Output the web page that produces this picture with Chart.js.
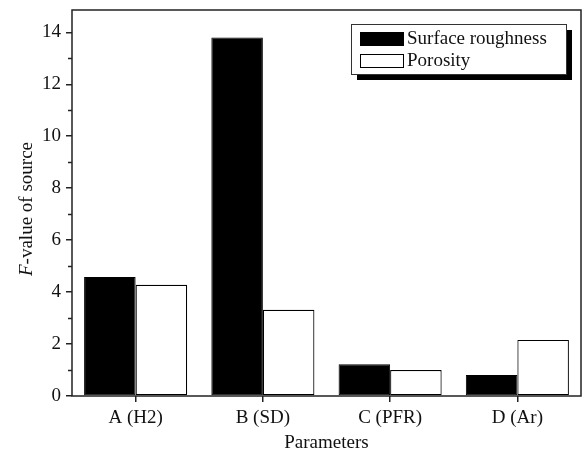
<!DOCTYPE html>
<html>
<head>
<meta charset="utf-8">
<script src="https://cdn.jsdelivr.net/npm/chart.js@4.4.1/dist/chart.umd.min.js"></script>
<style>
  html, body { margin: 0; padding: 0; background: #fff; }
  #wrap { width: 583px; height: 454px; }
</style>
</head>
<body>
<div id="wrap"><canvas id="c" width="583" height="454"></canvas></div>
<script>
// data
const categories = ['A (H2)', 'B (SD)', 'C (PFR)', 'D (Ar)'];
const roughness = [4.58, 13.8, 1.22, 0.81];
const porosity = [4.28, 3.32, 1.0, 2.16];
const yTicks = [0, 2, 4, 6, 8, 10, 12, 14];
const yMinor = [1, 3, 5, 7, 9, 11, 13];

const FONT = '"Liberation Serif", "DejaVu Serif", serif';

// frame, minor ticks, y title, legend with shadow
const extras = {
  id: 'extras',
  afterDraw(chart) {
    const ctx = chart.ctx;
    const a = chart.chartArea;
    const y = chart.scales.y;
    ctx.save();
    ctx.strokeStyle = '#222';
    ctx.lineWidth = 1.5;
    ctx.strokeRect(a.left, a.top, a.right - a.left, a.bottom - a.top);

    // minor ticks
    yMinor.forEach(v => {
      const py = Math.round(y.getPixelForValue(v)) + 0.5;
      ctx.beginPath();
      ctx.moveTo(a.left - 4, py);
      ctx.lineTo(a.left, py);
      ctx.stroke();
    });

    // y title with italic F
    ctx.fillStyle = '#111';
    ctx.translate(27, (a.top + a.bottom) / 2 + 6);
    ctx.rotate(-Math.PI / 2);
    ctx.textBaseline = 'middle';
    ctx.font = 'italic 19px ' + FONT;
    const fw = ctx.measureText('F').width;
    ctx.font = '19px ' + FONT;
    const rest = '-value of source';
    const rw = ctx.measureText(rest).width;
    const x0 = -(fw + rw) / 2;
    ctx.font = 'italic 19px ' + FONT;
    ctx.textAlign = 'left';
    ctx.fillText('F', x0, 0);
    ctx.font = '19px ' + FONT;
    ctx.fillText(rest, x0 + fw, 0);
    ctx.restore();

    // legend
    ctx.save();
    const lx = 351, ly = 24, lw = 215, lh = 50;
    ctx.fillStyle = '#000';
    ctx.fillRect(lx + 6, ly + 6, lw, lh);
    ctx.fillStyle = '#fff';
    ctx.fillRect(lx, ly, lw, lh);
    ctx.strokeStyle = '#333';
    ctx.lineWidth = 1;
    ctx.strokeRect(lx + 0.5, ly + 0.5, lw, lh);
    ctx.font = '19px ' + FONT;
    ctx.textBaseline = 'middle';
    chart.data.datasets.forEach((ds, i) => {
      const sy = ly + 8 + i * 22;
      ctx.fillStyle = ds.backgroundColor;
      ctx.fillRect(360, sy, 43, 13);
      ctx.strokeStyle = '#000';
      ctx.strokeRect(360.5, sy + 0.5, 43, 13);
      ctx.fillStyle = '#111';
      ctx.fillText(ds.label, 407, sy + 7);
    });
    ctx.restore();
  }
};

new Chart(document.getElementById('c'), {
  type: 'bar',
  data: {
    labels: categories,
    datasets: [
      { label: 'Surface roughness', data: roughness, backgroundColor: '#000', borderColor: '#000', borderWidth: 1 },
      { label: 'Porosity', data: porosity, backgroundColor: '#fff', borderColor: '#000', borderWidth: 1.2 }
    ]
  },
  options: {
    responsive: false,
    animation: false,
    layout: { padding: { top: 10, right: 2, left: 0, bottom: 0 } },
    datasets: { bar: { categoryPercentage: 0.81, barPercentage: 1, borderSkipped: false } },
    plugins: { legend: { display: false }, tooltip: { enabled: false } },
    scales: {
      x: {
        grid: { display: true, drawOnChartArea: false, offset: false, tickLength: 6, color: '#222', lineWidth: 1.5 },
        border: { display: false },
        ticks: { color: '#111', font: { family: FONT, size: 19 }, padding: 5, maxRotation: 0 },
        title: { display: true, text: 'Parameters', color: '#111', font: { family: FONT, size: 19 }, padding: 0 },
        afterFit(s) { s.height = 58; s.paddingLeft = 0; s.paddingRight = 0; }
      },
      y: {
        min: 0,
        max: 14.86,
        afterBuildTicks(s) { s.ticks = yTicks.map(v => ({ value: v })); },
        grid: { display: true, drawOnChartArea: false, tickLength: 6, color: '#222', lineWidth: 1.5 },
        border: { display: false },
        ticks: { color: '#111', font: { family: FONT, size: 19 }, padding: 5 },
        afterFit(s) { s.width = 72; s.paddingTop = 0; s.paddingBottom = 0; }
      }
    }
  },
  plugins: [extras]
});
</script>
</body>
</html>
